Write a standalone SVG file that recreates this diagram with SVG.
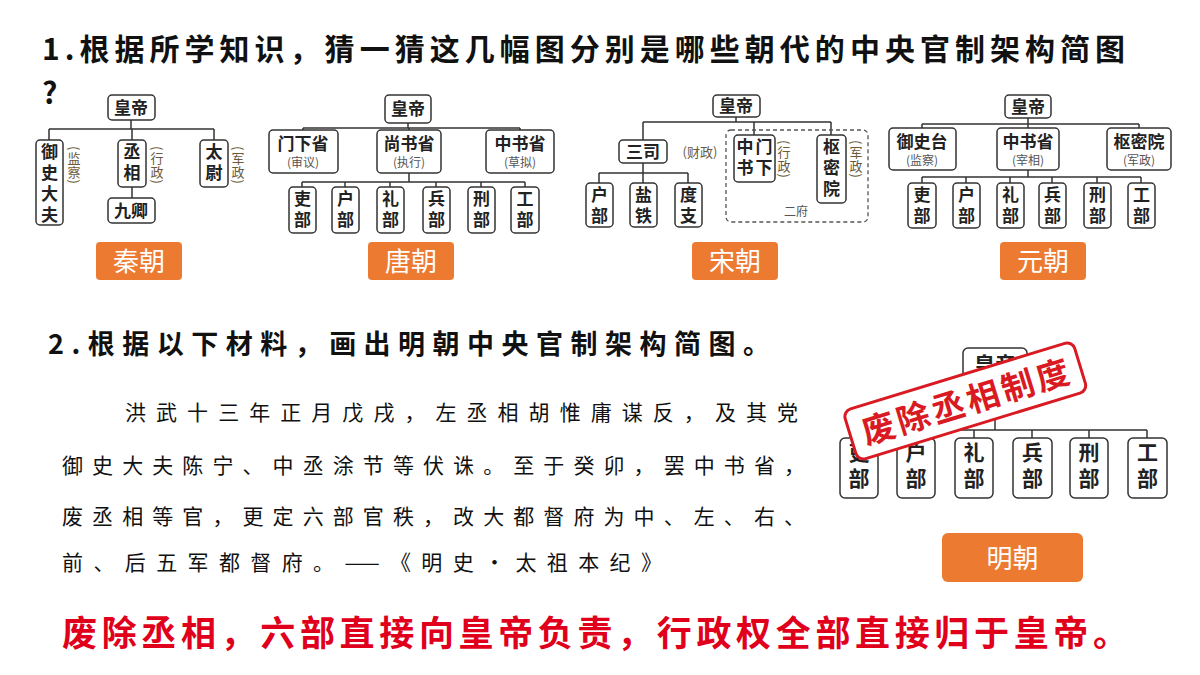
<svg xmlns="http://www.w3.org/2000/svg" width="1200" height="675" viewBox="0 0 1200 675">
<style>
text{font-family:"Noto Sans CJK SC","Liberation Sans",sans-serif}
.b{fill:#fff;stroke:#333;stroke-width:1.5}
.n{font-size:17px;font-weight:bold;fill:#222;text-anchor:middle}
.nv{font-size:17px;font-weight:bold;fill:#222;writing-mode:vertical-rl;letter-spacing:4px}
.mv{font-size:21px;font-weight:bold;fill:#222;writing-mode:vertical-rl;letter-spacing:5px}
.s{font-size:12px;fill:#555;text-anchor:middle}
.p{font-size:13px;fill:#6b5a3a;text-anchor:middle}
.v{font-size:13px;fill:#6b5a3a;writing-mode:vertical-rl;letter-spacing:1px}
.l{stroke:#333;stroke-width:1.5;fill:none}
.o{fill:#ec7a30}
.ot{font-size:26px;fill:#fff;text-anchor:middle}
.ms{font-size:21px;font-weight:bold;fill:#222;text-anchor:middle}
.t{font-size:30px;font-weight:bold;fill:#111}
.x{font-size:21px;fill:#111}
</style>
<rect width="1200" height="675" fill="#fff"/>
<text class="t" x="42" y="60" textLength="1083">1.根据所学知识，猜一猜这几幅图分别是哪些朝代的中央官制架构简图</text>
<text class="t" x="42" y="104">?</text>

<g id="connectors">
<path class="l" d="M131 120V129M49 129H214M49 129V140M132 129V140M214 129V140M132 187V198"/>
<path class="l" d="M408 123V128M303 128H520M303 128V130M409 128V130M520 128V130M409 173V182M302 182H525M302 182V187M345 182V187M390 182V187M436 182V187M481 182V187M525 182V187"/>
<path class="l" d="M736 117V122M643 122H831M643 122V140M754 122V135M831 122V135M643 163V173M599 173H688M599 173V183M643 173V183M688 173V183"/>
<path class="l" d="M1028 118V124M922 124H1139M922 124V128M1028 124V128M1139 124V128M1028 170V177M922 177H1141M922 177V183M966 177V183M1010 177V183M1052 177V183M1097 177V183M1141 177V183"/>
<path class="l" d="M995 380V430M859 430H1147M859 430V438M916 430V438M974 430V438M1032 430V438M1089 430V438M1147 430V438"/>
</g>

<g id="qin">
<rect class="b" x="108" y="95" width="47" height="25" rx="4"/><text class="n" x="131" y="114">皇帝</text>
<rect class="b" x="36" y="140" width="27" height="85" rx="4"/><text class="nv" x="49.5" y="143">御史大夫</text>
<text class="v" x="74" y="146">(监察)</text>
<rect class="b" x="118" y="140" width="28" height="47" rx="4"/><text class="nv" x="132" y="143">丞相</text>
<text class="v" x="157" y="146">(行政)</text>
<rect class="b" x="108" y="198" width="47" height="25" rx="4"/><text class="n" x="131" y="217">九卿</text>
<rect class="b" x="200" y="140" width="28" height="47" rx="4"/><text class="nv" x="214" y="143">太尉</text>
<text class="v" x="238" y="146">(军政)</text>
<rect class="o" x="96" y="242" width="86" height="38" rx="4"/><text class="ot" x="139" y="271">秦朝</text>
</g>

<g id="tang">
<rect class="b" x="385" y="95" width="46" height="28" rx="4"/><text class="n" x="408" y="115">皇帝</text>
<rect class="b" x="269" y="130" width="69" height="43" rx="4"/><text class="n" x="303" y="150">门下省</text><text class="s" x="303" y="167">(审议)</text>
<rect class="b" x="377" y="130" width="64" height="43" rx="4"/><text class="n" x="409" y="150">尚书省</text><text class="s" x="409" y="167">(执行)</text>
<rect class="b" x="486" y="130" width="68" height="43" rx="4"/><text class="n" x="520" y="150">中书省</text><text class="s" x="520" y="167">(草拟)</text>
<rect class="b" x="289" y="187" width="27" height="46" rx="4"/><text class="nv" x="302.5" y="190">吏部</text>
<rect class="b" x="332" y="187" width="27" height="46" rx="4"/><text class="nv" x="345.5" y="190">户部</text>
<rect class="b" x="377" y="187" width="27" height="46" rx="4"/><text class="nv" x="390.5" y="190">礼部</text>
<rect class="b" x="423" y="187" width="27" height="46" rx="4"/><text class="nv" x="436.5" y="190">兵部</text>
<rect class="b" x="468" y="187" width="27" height="46" rx="4"/><text class="nv" x="481.5" y="190">刑部</text>
<rect class="b" x="511" y="187" width="28" height="46" rx="4"/><text class="nv" x="525" y="190">工部</text>
<rect class="o" x="368" y="242" width="86" height="38" rx="4"/><text class="ot" x="411" y="271">唐朝</text>
</g>

<g id="song">
<rect class="b" x="713" y="95" width="47" height="22" rx="4"/><text class="n" x="736" y="112">皇帝</text>
<rect class="b" x="619" y="140" width="48" height="23" rx="4"/><text class="n" x="643" y="158">三司</text>
<text class="p" x="700" y="157">(财政)</text>
<rect class="b" x="586" y="183" width="27" height="44" rx="4"/><text class="nv" x="599.5" y="186">户部</text>
<rect class="b" x="630" y="183" width="27" height="44" rx="4"/><text class="nv" x="643.5" y="186">盐铁</text>
<rect class="b" x="675" y="183" width="27" height="44" rx="4"/><text class="nv" x="688.5" y="186">度支</text>
<rect x="726" y="130" width="142" height="92" rx="5" fill="none" stroke="#555" stroke-width="1.3" stroke-dasharray="4,3"/>
<rect class="b" x="734" y="135" width="41" height="47" rx="4"/><text class="nv" x="764" y="138">门下</text><text class="nv" x="745" y="138">中书</text>
<text class="v" x="784" y="140">(行政)</text>
<rect class="b" x="817" y="135" width="29" height="68" rx="4"/><text class="nv" x="831.5" y="138">枢密院</text>
<text class="v" x="856" y="140">(军政)</text>
<text class="s" x="796" y="216">二府</text>
<rect class="o" x="692" y="242" width="86" height="38" rx="4"/><text class="ot" x="735" y="271">宋朝</text>
</g>

<g id="yuan">
<rect class="b" x="1005" y="95" width="46" height="23" rx="4"/><text class="n" x="1028" y="113">皇帝</text>
<rect class="b" x="889" y="128" width="67" height="42" rx="4"/><text class="n" x="922" y="148">御史台</text><text class="s" x="922" y="165">(监察)</text>
<rect class="b" x="997" y="128" width="62" height="42" rx="4"/><text class="n" x="1028" y="148">中书省</text><text class="s" x="1028" y="165">(宰相)</text>
<rect class="b" x="1107" y="128" width="64" height="42" rx="4"/><text class="n" x="1139" y="148">枢密院</text><text class="s" x="1139" y="165">(军政)</text>
<rect class="b" x="908" y="183" width="28" height="45" rx="4"/><text class="nv" x="922" y="186">吏部</text>
<rect class="b" x="953" y="183" width="27" height="45" rx="4"/><text class="nv" x="966.5" y="186">户部</text>
<rect class="b" x="997" y="183" width="27" height="45" rx="4"/><text class="nv" x="1010.5" y="186">礼部</text>
<rect class="b" x="1039" y="183" width="27" height="45" rx="4"/><text class="nv" x="1052.5" y="186">兵部</text>
<rect class="b" x="1084" y="183" width="27" height="45" rx="4"/><text class="nv" x="1097.5" y="186">刑部</text>
<rect class="b" x="1128" y="183" width="27" height="45" rx="4"/><text class="nv" x="1141.5" y="186">工部</text>
<rect class="o" x="1000" y="242" width="86" height="38" rx="4"/><text class="ot" x="1043" y="271">元朝</text>
</g>

<text x="48" y="354" font-size="27" font-weight="bold" fill="#111" textLength="722">2.根据以下材料，画出明朝中央官制架构简图。</text>
<g id="passage">
<text class="x" x="125" y="420" textLength="673">洪武十三年正月戊戌，左丞相胡惟庸谋反，及其党</text>
<text class="x" x="62" y="473" textLength="743">御史大夫陈宁、中丞涂节等伏诛。至于癸卯，罢中书省，</text>
<text class="x" x="62" y="524" textLength="743">废丞相等官，更定六部官秩，改大都督府为中、左、右、</text>
<text class="x" x="62" y="570" textLength="600">前、后五军都督府。——《明史·太祖本纪》</text>
</g>

<g id="ming">
<rect class="b" x="963" y="348" width="64" height="32" rx="5" stroke-width="2"/><text class="ms" x="995" y="372">皇帝</text>
<rect class="b" x="840" y="438" width="38" height="60" rx="5" stroke-width="2"/><text class="mv" x="859" y="442">吏部</text>
<rect class="b" x="897" y="438" width="38" height="60" rx="5" stroke-width="2"/><text class="mv" x="916" y="442">户部</text>
<rect class="b" x="955" y="438" width="38" height="60" rx="5" stroke-width="2"/><text class="mv" x="974" y="442">礼部</text>
<rect class="b" x="1013" y="438" width="39" height="60" rx="5" stroke-width="2"/><text class="mv" x="1032.5" y="442">兵部</text>
<rect class="b" x="1070" y="438" width="38" height="60" rx="5" stroke-width="2"/><text class="mv" x="1089" y="442">刑部</text>
<rect class="b" x="1128" y="438" width="39" height="60" rx="5" stroke-width="2"/><text class="mv" x="1147.5" y="442">工部</text>
<g transform="rotate(-17 965 400)">
<rect x="845" y="375" width="240" height="52" rx="8" fill="#fff" stroke="#d91a22" stroke-width="3"/>
<text x="965" y="414" font-size="33" font-weight="bold" fill="#d91a22" text-anchor="middle" textLength="215">废除丞相制度</text>
</g>
<rect class="o" x="942" y="533" width="141" height="49" rx="6"/><text class="ot" x="1012.5" y="568" font-size="30">明朝</text>
</g>

<text x="62" y="646" font-size="35" font-weight="bold" fill="#e0001b" textLength="1066">废除丞相，六部直接向皇帝负责，行政权全部直接归于皇帝。</text>
</svg>
